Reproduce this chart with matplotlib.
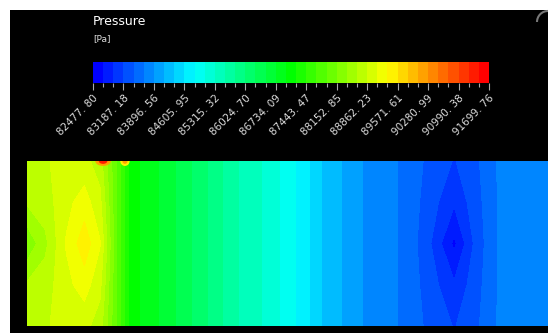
import matplotlib.pyplot as plt
import numpy as np
from matplotlib.colors import LinearSegmentedColormap, BoundaryNorm
from matplotlib.patches import Rectangle, Ellipse, Arc
from matplotlib.ticker import FixedLocator
import matplotlib.cm as cm

# legend labels [Pa]
tick_values = [82477.80, 83187.18, 83896.56, 84605.95, 85315.32, 86024.70, 86734.09,
               87443.47, 88152.85, 88862.23, 89571.61, 90280.99, 90990.38, 91699.76]

# stations along the channel (fraction of length) and across it (fraction of height)
x_stations = [0.0, 0.035, 0.075, 0.11, 0.14, 0.175, 0.2, 0.255, 0.33, 0.41, 0.465,
              0.525, 0.57, 0.62, 0.66, 0.72, 0.765, 0.82, 0.865, 0.91, 1.0]
y_rows = [0.0, 0.25, 0.5, 0.75, 1.0]

# pressure [Pa]
p_wall = [88750, 88841, 88933, 88933, 88749, 87826, 87089, 86720, 86167, 85521, 85244,
          84783, 84322, 84045, 83815, 83630, 83400, 83170, 83400, 83720, 83770]
p_quarter = [88657, 88749, 89025, 89210, 88933, 87826, 87089, 86720, 86167, 85521, 85244,
             84783, 84322, 84045, 83815, 83630, 83354, 82985, 83354, 83720, 83770]
p_centre = [88195, 88564, 89118, 89486, 89118, 87826, 87089, 86720, 86167, 85521, 85244,
            84783, 84322, 84045, 83815, 83630, 83308, 82660, 83308, 83720, 83770]

# hot spots on the upper wall
spot_x = [0.146, 0.188]
spot_w = [0.03, 0.018]
spot_p_outer = [90132, 89571]
spot_p_inner = [91239, 90280]

W, H = 548, 333
fig = plt.figure(figsize=(W / 100, H / 100), dpi=100, facecolor='black')
fig.add_artist(Rectangle((0, 1 - 10 / H), 1, 10 / H, transform=fig.transFigure,
                         facecolor='white', edgecolor='none'))
fig.add_artist(Rectangle((0, 0), 10 / W, 1, transform=fig.transFigure,
                         facecolor='white', edgecolor='none'))
# corner of a viewer control, top right
fig.add_artist(Arc((5.48, (H - 22) / 100), 0.22, 0.22, theta1=90, theta2=180,
                   transform=fig.dpi_scale_trans, color='#777777', lw=1.5))

levels = np.linspace(tick_values[0], tick_values[-1], 40)
cmap = LinearSegmentedColormap.from_list(
    'cfx', ['#0000ff', '#00ffff', '#00ff00', '#ffff00', '#ff0000'], N=len(levels) - 1)
norm = BoundaryNorm(levels, cmap.N)

# contour field
ax = fig.add_axes([27 / W, 1 - 326 / H, 521 / W, 165 / H])
field = np.array([p_wall, p_quarter, p_centre, p_quarter, p_wall])
ax.contourf(x_stations, y_rows, field, levels=levels, cmap=cmap, norm=norm)
for sx, sw, po, pi in zip(spot_x, spot_w, spot_p_outer, spot_p_inner):
    ax.add_patch(Ellipse((sx, 1.0), sw, 0.06, facecolor=cmap(norm(po)), edgecolor='none'))
    ax.add_patch(Ellipse((sx, 1.0), sw * 0.55, 0.035, facecolor=cmap(norm(pi)), edgecolor='none'))
ax.set_xlim(0, 1)
ax.set_ylim(0, 1)
ax.axis('off')

# legend
cax = fig.add_axes([93 / W, 1 - 83 / H, 396 / W, 21 / H])
cb = fig.colorbar(cm.ScalarMappable(norm=norm, cmap=cmap), cax=cax,
                  orientation='horizontal', ticks=tick_values)
cb.outline.set_visible(False)
cax.xaxis.set_minor_locator(FixedLocator(levels))
cax.tick_params(axis='x', which='major', length=5, width=0.8, color='#aaaaaa', pad=2)
cax.tick_params(axis='x', which='minor', length=3, width=0.8, color='#aaaaaa')
cax.set_xticklabels([f'{v:.2f}'.replace('.', '. ') for v in tick_values], rotation=45,
                    ha='right', va='top', rotation_mode='anchor', fontsize=7.5,
                    color='#dddddd')

fig.text(93 / W, 1 - 15 / H, 'Pressure', color='white', fontsize=9,
         ha='left', va='top')
fig.text(93 / W, 1 - 34 / H, '[Pa]', color='#dddddd', fontsize=6.5, ha='left', va='top')

fig.savefig('out.png', dpi=100, facecolor=fig.get_facecolor())
